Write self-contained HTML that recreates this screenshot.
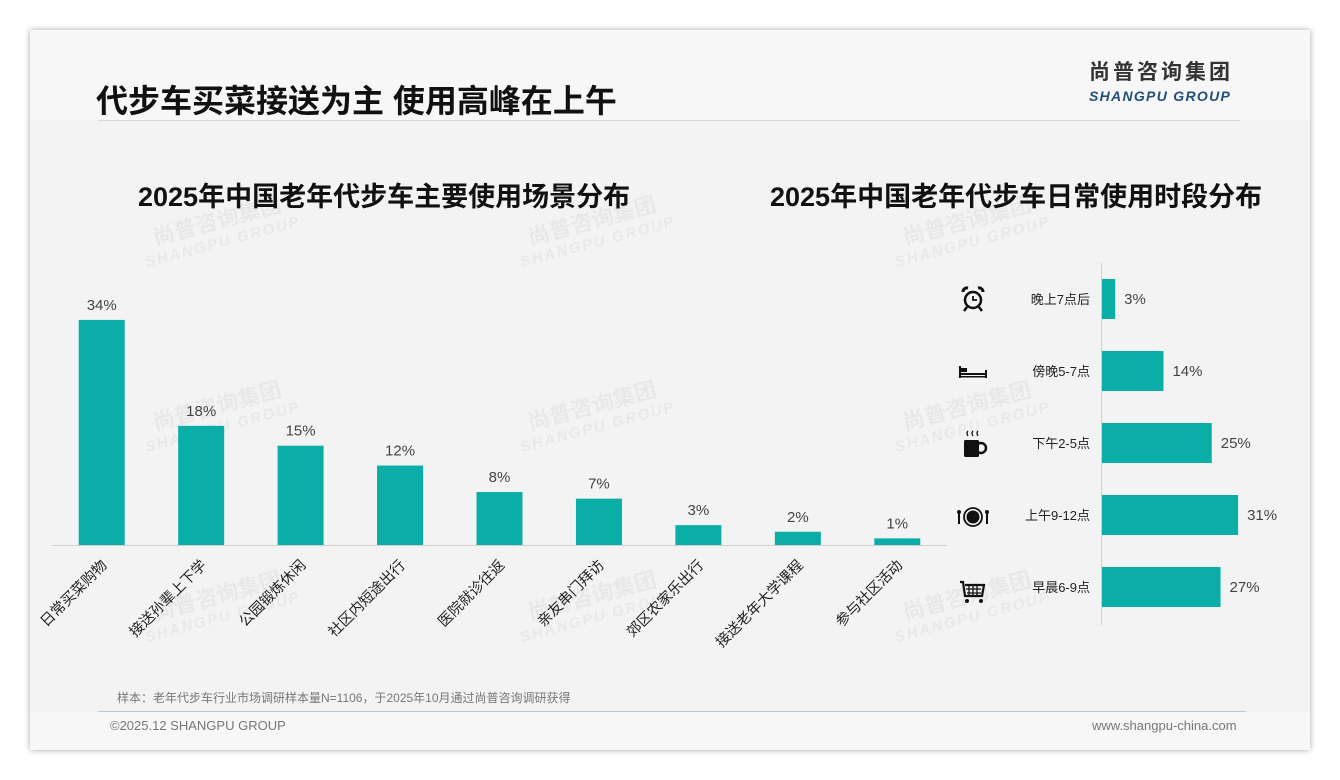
<!DOCTYPE html>
<html><head><meta charset="utf-8">
<style>
body{margin:0;width:1340px;height:780px;background:#fff;font-family:"Liberation Sans","Noto Sans CJK SC",sans-serif;overflow:hidden;position:relative}
.card{position:absolute;left:30px;top:30px;width:1280px;height:720px;background:#f3f3f3;box-shadow:0 0 6px rgba(0,0,0,.35)}
.abs{position:absolute}
.wm{position:absolute;color:rgba(0,0,0,0.045);font-weight:bold;transform:rotate(-15deg);font-size:22px;line-height:22px;text-align:center}
.wm span{display:block;font-size:15px;letter-spacing:2px;font-style:italic}
</style></head><body>
<div class="card"></div>
<div class="abs" style="left:30px;top:30px;width:1280px;height:90px;background:#f7f7f7"></div>
<div class="abs" style="left:30px;top:712px;width:1280px;height:38px;background:#f7f7f7"></div>
<div class="abs" style="left:96px;top:76px;font-size:32px;font-weight:bold;color:#111">代步车买菜接送为主 使用高峰在上午</div>
<div class="abs" style="left:98px;top:120px;width:1142px;height:1px;background:#d8d8d8"></div>
<div class="abs" style="left:1089px;top:61px;font-size:21px;line-height:24px;font-weight:bold;color:#333;letter-spacing:3px">尚普咨询集团</div>
<div class="abs" style="left:1089px;top:88px;font-size:14px;line-height:16px;font-weight:bold;font-style:italic;color:#1f4f7a;letter-spacing:1.3px">SHANGPU GROUP</div>
<div class="wm" style="left:140px;top:210px">尚普咨询集团<span>SHANGPU GROUP</span></div>
<div class="wm" style="left:515px;top:210px">尚普咨询集团<span>SHANGPU GROUP</span></div>
<div class="wm" style="left:890px;top:210px">尚普咨询集团<span>SHANGPU GROUP</span></div>
<div class="wm" style="left:140px;top:395px">尚普咨询集团<span>SHANGPU GROUP</span></div>
<div class="wm" style="left:515px;top:395px">尚普咨询集团<span>SHANGPU GROUP</span></div>
<div class="wm" style="left:890px;top:395px">尚普咨询集团<span>SHANGPU GROUP</span></div>
<div class="wm" style="left:140px;top:585px">尚普咨询集团<span>SHANGPU GROUP</span></div>
<div class="wm" style="left:515px;top:585px">尚普咨询集团<span>SHANGPU GROUP</span></div>
<div class="wm" style="left:890px;top:585px">尚普咨询集团<span>SHANGPU GROUP</span></div>
<div class="abs" style="left:138px;top:175px;font-size:27px;font-weight:bold;color:#111">2025年中国老年代步车主要使用场景分布</div>
<div class="abs" style="left:770px;top:175px;font-size:27px;font-weight:bold;color:#111">2025年中国老年代步车日常使用时段分布</div>
<svg class="abs" style="left:0;top:0" width="1340" height="780" id="chart">
 <g transform="translate(973,300)" fill="none" stroke="#111" stroke-width="2.5">
  <circle r="8"/><path d="M0-4V0H4" stroke-width="1.8"/><path d="M-10-8a4 4 0 0 1 5-4M10-8a4 4 0 0 0-5-4" stroke-width="3"/><path d="M-6 7l-3 4M6 7l3 4"/>
 </g>
 <g transform="translate(973,372)" fill="#111">
  <rect x="-14" y="-6" width="2" height="12"/><rect x="12" y="-2" width="2" height="8"/><rect x="-12" y="1" width="24" height="2"/><rect x="-12" y="-4" width="6" height="4"/><rect x="-12" y="4" width="24" height="1.5"/>
 </g>
 <g transform="translate(973,444)" fill="#111">
  <rect x="-9" y="-4" width="15" height="17" rx="1.5"/><circle cx="8" cy="4" r="5" fill="none" stroke="#111" stroke-width="2.5"/>
  <path d="M-5-8q-2-3 0-5M0-8q-2-3 0-5M5-8q-2-3 0-5" fill="none" stroke="#111" stroke-width="1.3"/>
 </g>
 <g transform="translate(973,517)" fill="#111">
  <circle r="9" fill="none" stroke="#111" stroke-width="1.8"/><circle r="6.5"/><rect x="-15" y="-5" width="2" height="12"/><circle cx="-14" cy="-5" r="2"/><rect x="13" y="-5" width="2" height="12"/><circle cx="14" cy="-5" r="2"/>
 </g>
 <g transform="translate(973,592)">
  <path d="M-13-10h3l2 14h17l2-11H-8" fill="none" stroke="#111" stroke-width="2.2"/>
  <path d="M-7-3h15M-6 1h14M-4-7v11M0-7v11M4-7v11" stroke="#111" stroke-width="1.3"/>
  <circle cx="-6" cy="9" r="2" fill="#111"/><circle cx="8" cy="9" r="2" fill="#111"/>
 </g>
</svg>
<div class="abs" style="left:117px;top:689px;font-size:12px;color:#777">样本：老年代步车行业市场调研样本量N=1106，于2025年10月通过尚普咨询调研获得</div>
<div class="abs" style="left:98px;top:711px;width:1148px;height:1px;background:#b9c6d2"></div>
<div class="abs" style="left:110px;top:718px;font-size:13px;color:#777">©2025.12 SHANGPU GROUP</div>
<div class="abs" style="left:1092px;top:718px;font-size:13px;color:#777">www.shangpu-china.com</div>
<script>
const scenes=["日常买菜购物","接送孙辈上下学","公园锻炼休闲","社区内短途出行","医院就诊往返","亲友串门拜访","郊区农家乐出行","接送老年大学课程","参与社区活动"];
const sceneVals=[34,18,15,12,8,7,3,2,1];
const times=["晚上7点后","傍晚5-7点","下午2-5点","上午9-12点","早晨6-9点"];
const timeVals=[3,14,25,31,27];
const NS="http://www.w3.org/2000/svg";
const svg=document.getElementById('chart');
function mk(t,a){const e=document.createElementNS(NS,t);for(const k in a)e.setAttribute(k,a[k]);svg.appendChild(e);return e;}
const TEAL="#0aaea6";
const base=545,x0=52,x1=947,step=(x1-x0)/scenes.length;
const yL=v=>base-v*6.62;
const ax=mk('line',{x1:x0,x2:x1,y1:base+0.5,y2:base+0.5,stroke:'#d0d0d0'});

scenes.forEach((s,i)=>{
 const cx=x0+step*(i+0.5);
 const r=mk('rect',{x:cx-23,y:yL(sceneVals[i]),width:46,height:base-yL(sceneVals[i]),fill:TEAL});
 
 const t=mk('text',{x:cx,y:yL(sceneVals[i])-10,'text-anchor':'middle','font-size':15,fill:'#444'});
 t.textContent=sceneVals[i]+'%';
 
 const l=mk('text',{x:cx+6,y:566,'text-anchor':'end','font-size':14.5,fill:'#222',transform:`rotate(-45 ${cx+6} 566)`});
 l.textContent=s;
 
});
const axX=1101,y0=263,rs=72,xR=v=>axX+1+v*4.39;
const ay=mk('line',{x1:axX+0.5,x2:axX+0.5,y1:y0,y2:625,stroke:'#d0d0d0'});

times.forEach((s,i)=>{
 const cy=y0+36+rs*i;
 const r=mk('rect',{x:axX+1,y:cy-20,width:xR(timeVals[i])-axX-1,height:40,fill:TEAL});
 
 const t=mk('text',{x:xR(timeVals[i])+9,y:cy+5,'font-size':15,fill:'#444'});
 t.textContent=timeVals[i]+'%';
 
 const l=mk('text',{x:1090,y:cy+5,'text-anchor':'end','font-size':13,fill:'#222'});
 l.textContent=s;
 
});
</script>
</body></html>
